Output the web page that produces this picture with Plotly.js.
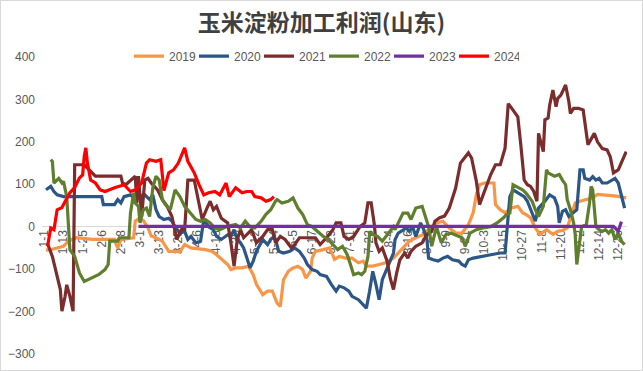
<!DOCTYPE html>
<html>
<head>
<meta charset="utf-8">
<script src="https://cdn.plot.ly/plotly-3.0.1.min.js"></script>
<style>
html,body{margin:0;padding:0;background:#fff;}
#chart{width:641px;height:369px;border:1px solid #d9d9d9;}
</style>
</head>
<body>
<div id="chart"></div>
<script>
// Category tick labels (every 12th day of the year)
const tickLabels = ["1-1","1-13","1-25","2-6","2-18","3-1","3-13","3-25","4-6","4-18","4-30","5-12","5-24","6-5","6-17","6-29","7-11","7-23","8-4","8-16","8-28","9-9","9-21","10-3","10-15","10-27","11-8","11-20","12-2","12-14","12-26"];
const tickDays = [0,12,24,36,48,60,72,84,96,108,120,132,144,156,168,180,192,204,216,228,240,252,264,276,288,300,312,324,336,348,360];

const seriesNames = ["2019","2020","2021","2022","2023","2024"];

// day-of-year index and profit value (yuan/t) for each year
const d2019 = [1,4,8,12,15,17,20,30,44,45,46,48,56,57,59,62,65,67,70,74,78,82,85,88,92,101,105,108,111,115,117,120,124,128,131,133,137,140,143,145,146,148,149,150,153,156,159,162,164,167,168,170,175,179,182,185,189,193,197,200,202,206,210,214,219,221,225,229,233,238,242,246,250,254,258,262,266,269,271,273,276,282,283,286,289,293,297,300,302,305,308,311,315,319,322,325,328,330,333,336,341,344,347,353,359,365];
const v2019 = [-55,-54,-50,-46,-34,-30,-26,-30,-30,-42,-50,-30,-26,13,18,15,-3,-22,-26,-34,-58,-58,-59,-42,-50,-54,-58,-66,-77,-89,-101,-97,-97,-93,-113,-136,-160,-152,-152,-172,-180,-188,-152,-125,-105,-97,-93,-101,-121,-105,-74,-58,-54,-50,-77,-70,-74,-74,-85,-81,-93,-93,-89,-85,-74,-66,-50,-34,-26,-18,-3,9,13,-3,-15,-15,5,33,76,99,103,103,52,40,33,44,48,33,29,21,-3,-18,-7,-18,-11,-9,-3,21,56,60,64,68,76,74,72,68];

const d2020 = [1,4,6,8,12,36,37,44,46,48,50,54,57,59,63,66,68,70,72,75,78,80,82,85,88,90,92,95,98,100,103,106,108,111,115,117,119,121,123,125,127,129,131,133,137,140,142,144,145,147,150,154,157,160,163,165,168,171,173,177,180,183,185,188,191,193,197,200,202,204,206,208,210,212,215,219,220,222,227,229,231,233,236,238,240,241,244,247,250,253,256,260,262,264,266,269,280,286,289,290,292,294,299,301,303,305,307,308,310,312,314,317,320,322,323,325,327,329,332,334,336,338,339,342,344,346,348,350,353,358,360,362,364];
const v2020 = [87,95,83,75,71,71,52,52,64,56,71,75,64,71,75,64,75,40,24,17,20,13,0,-15,-11,-30,-23,-38,-34,17,0,-7,-23,-30,-19,-23,-7,-30,-38,-50,-73,-97,-81,-58,-30,-42,-30,-23,-30,-58,-62,-58,-50,-58,-74,-89,-101,-105,-113,-117,-136,-152,-140,-144,-152,-164,-172,-184,-192,-152,-105,-136,-172,-125,-97,-62,-30,-15,-3,-11,0,-23,9,-7,-30,-74,-78,-81,-74,-70,-78,-81,-89,-93,-78,-74,-66,-62,-62,-15,71,87,75,71,60,40,24,13,44,52,60,75,68,48,9,36,40,24,33,40,134,134,114,110,118,110,114,103,103,114,103,76,44];

const d2021 = [2,5,7,10,11,13,14,16,18,19,25,32,48,49,51,55,57,58,59,61,63,65,67,71,74,77,80,83,86,88,90,94,96,99,102,104,106,108,111,115,117,119,121,123,125,128,130,133,137,140,143,145,148,151,155,157,160,170,173,177,179,181,183,186,188,191,194,198,201,203,205,207,208,210,212,215,217,219,221,223,226,228,230,233,237,240,243,245,248,251,254,258,261,264,266,268,271,273,276,280,283,286,289,291,293,297,299,301,303,305,307,309,310,311,313,314,316,317,319,321,322,324,325,327,329,330,332,335,338,341,345,347,350,353,355,357,360,363,365];
const v2021 = [-40,-70,-101,-148,-199,-164,-137,-164,-199,146,146,119,119,103,99,114,119,56,119,24,110,114,103,87,64,48,24,-30,-7,-7,110,110,71,17,44,60,40,48,20,9,-38,-93,-30,-7,-26,-15,-7,-38,-23,-7,-7,-38,-23,-30,-50,-42,-26,-26,-42,-26,-15,-7,9,9,-23,-30,-23,0,9,56,56,5,-38,-58,-50,-81,-122,-148,-109,-78,-62,-74,-58,-46,-38,-18,-11,13,21,25,44,91,150,166,174,162,107,52,83,123,146,146,185,290,280,259,188,110,99,95,83,60,220,205,177,252,256,287,322,283,302,310,318,334,295,267,279,279,275,193,220,200,184,181,165,127,134,158,177];

const d2022 = [4,5,6,7,9,11,12,14,16,19,22,25,29,34,38,40,41,46,47,53,54,56,57,59,60,62,64,66,68,70,72,74,76,79,82,85,88,92,95,98,101,104,107,110,114,120,123,126,129,132,136,139,142,145,146,149,153,156,159,162,165,168,175,178,181,184,187,190,192,194,197,199,201,203,204,206,209,212,215,219,220,222,225,228,230,233,237,239,241,243,246,249,252,255,262,264,267,271,275,280,284,288,290,292,294,298,300,302,304,306,308,310,311,313,315,316,320,323,325,327,328,330,332,333,334,336,337,340,342,343,344,346,348,350,352,354,356,358,360,362,364];
const v2022 = [158,154,103,107,114,103,107,71,-54,-70,-109,-129,-122,-113,-101,-89,-34,-34,-26,-26,32,80,56,48,9,40,44,24,91,119,110,64,52,40,87,71,48,29,17,13,17,9,-3,-7,0,5,-3,13,0,-3,13,29,40,60,64,56,60,68,44,29,5,0,-23,-30,-42,-54,-46,-66,-89,-113,-109,-113,-105,-70,-15,-19,-23,-34,-19,0,-7,9,32,32,17,44,48,24,0,-46,0,-38,-18,-15,-26,-46,-15,-7,-3,0,9,21,29,32,99,91,87,80,71,60,40,24,32,48,134,127,119,123,110,99,64,40,9,-18,-89,-30,0,5,56,95,87,0,-7,-11,-7,-15,-7,-30,-15,-34,-42];

const d2023 = [59,357,360,362];
const v2023 = [1,1,-10,12];

const d2024 = [2,4,6,8,11,13,16,19,22,24,25,26,27,29,32,35,38,44,50,54,57,61,64,66,70,73,75,78,81,84,88,90,94,97,100,103,107,110,114,116,120,124,127,130,132,136,139,142,144];
const v2024 = [-46,-3,-7,40,45,60,80,92,115,122,166,186,150,110,103,87,83,92,99,83,87,103,150,158,154,158,85,127,134,150,186,154,127,99,75,80,83,75,103,71,92,80,83,83,71,68,60,64,71];

const seriesColors = ["#F79646","#2B5687","#7B2C2C","#5F7F2E","#7030A0","#FF0000"];
const yTicks = [-300,-200,-100,0,100,200,300,400];

const xs = [d2019,d2020,d2021,d2022,d2023,d2024];
const ys = [v2019,v2020,v2021,v2022,v2023,v2024];

const traces = seriesNames.map((n,i)=>({
  type:'scatter', mode:'lines', name:n,
  x: xs[i], y: ys[i],
  line:{color:seriesColors[i], width:3.2, shape:'linear'}
}));

const layout = {
  width:641, height:369,
  margin:{l:41, r:15, t:56, b:16, autoexpand:false},
  paper_bgcolor:'#ffffff', plot_bgcolor:'#ffffff',
  showlegend:true,
  title:{text:'玉米淀粉加工利润(山东)', x:0.5, xref:'container', xanchor:'center',
         y:1-22/369, yref:'container', yanchor:'middle',
         font:{family:'"Noto Sans CJK SC", sans-serif', size:23, color:'#404040', weight:'bold'}},
  legend:{orientation:'h', x:0.482, xanchor:'center',
          y:1.003, yanchor:'middle', bgcolor:'rgba(0,0,0,0)',
          entrywidth:20, entrywidthmode:'pixels',
          font:{family:'"Liberation Sans", Arial, sans-serif', size:12, color:'#595959'},
          traceorder:'normal'},
  xaxis:{range:[-1.5,365.5], tickmode:'array', tickvals:tickDays, ticktext:tickLabels,
         tickangle:-90, showgrid:false, zeroline:false, showline:false, ticks:'',
         anchor:'free', position:300/700, layer:'below traces', automargin:false,
         tickfont:{family:'"Liberation Sans", Arial, sans-serif', size:12, color:'#595959'},
         fixedrange:true},
  yaxis:{range:[-300,400], tickmode:'array', tickvals:yTicks, showgrid:false,
         zeroline:true, zerolinecolor:'#d9d9d9', zerolinewidth:1.5, showline:false, ticks:'',
         ticklabelstandoff:6, automargin:false,
         tickfont:{family:'"Liberation Sans", Arial, sans-serif', size:12, color:'#595959'},
         fixedrange:true},
  hovermode:false
};

Plotly.newPlot('chart', traces, layout, {staticPlot:true, displayModeBar:false});
</script>
</body>
</html>
